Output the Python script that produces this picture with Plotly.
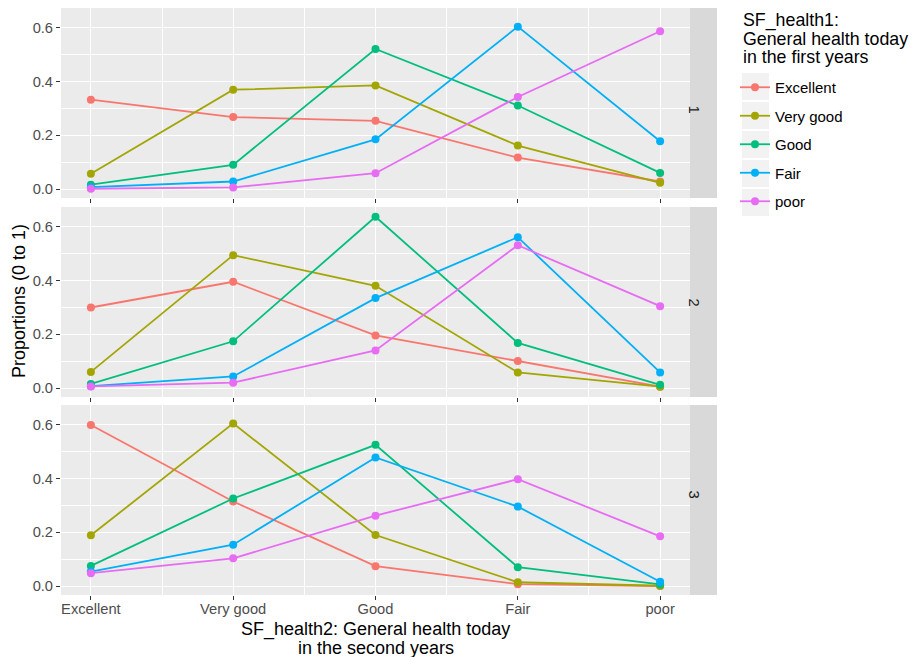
import plotly.graph_objects as go

categories = ["Excellent", "Very good", "Good", "Fair", "poor"]
series_names = ["Excellent", "Very good", "Good", "Fair", "poor"]
colors = ["#F8766D", "#A3A500", "#00BF7D", "#00B0F6", "#E76BF3"]
facets = ["1", "2", "3"]
legend_title_lines = ["SF_health1:", "General health today", "in the first years"]
x_title_lines = ["SF_health2: General health today", "in the second years"]
y_title = "Proportions (0 to 1)"

# facet 1
f1_excellent = [0.333, 0.268, 0.254, 0.117, 0.028]
f1_verygood = [0.057, 0.370, 0.386, 0.162, 0.023]
f1_good = [0.016, 0.090, 0.522, 0.311, 0.060]
f1_fair = [0.007, 0.028, 0.185, 0.605, 0.178]
f1_poor = [0.001, 0.006, 0.059, 0.343, 0.588]
# facet 2
f2_excellent = [0.300, 0.396, 0.196, 0.101, 0.005]
f2_verygood = [0.060, 0.495, 0.381, 0.058, 0.005]
f2_good = [0.015, 0.174, 0.638, 0.168, 0.012]
f2_fair = [0.007, 0.043, 0.335, 0.562, 0.058]
f2_poor = [0.006, 0.020, 0.140, 0.532, 0.305]
# facet 3
f3_excellent = [0.600, 0.315, 0.074, 0.007, 0.000]
f3_verygood = [0.189, 0.606, 0.190, 0.014, 0.001]
f3_good = [0.075, 0.326, 0.526, 0.070, 0.006]
f3_fair = [0.054, 0.154, 0.479, 0.296, 0.016]
f3_poor = [0.048, 0.103, 0.262, 0.398, 0.185]

facet_data = [
    [f1_excellent, f1_verygood, f1_good, f1_fair, f1_poor],
    [f2_excellent, f2_verygood, f2_good, f2_fair, f2_poor],
    [f3_excellent, f3_verygood, f3_good, f3_fair, f3_poor],
]

W, H = 914, 657
ML, MR, MT = 61, 10, 8
MB = H - 595
PW = W - ML - MR
PH = H - MT - MB

def px_x(p):  # p: pixel in window coordinates
    return (p - ML) / PW

def px_y(p):
    return (H - MB - p) / PH

panel_right = 690
strip_right = 717
panels_px = [(8, 198), (207, 397), (405, 595)]

FONT = "Liberation Sans, Arial, sans-serif"
TICK_SIZE = 14.7
fig = go.Figure()

xpos = list(range(1, len(categories) + 1))

for fi, data in enumerate(facet_data):
    ax = "" if fi == 0 else str(fi + 1)
    for si, vals in enumerate(data):
        fig.add_trace(go.Scatter(
            x=xpos, y=vals, mode="lines+markers",
            name=series_names[si], legendgroup=series_names[si],
            showlegend=(fi == 0),
            line=dict(color=colors[si], width=1.8),
            marker=dict(color=colors[si], size=8),
            xaxis="x" + ax, yaxis="y" + ax,
        ))

layout = dict(
    width=W, height=H,
    margin=dict(l=ML, r=MR, t=MT, b=MB),
    paper_bgcolor="white", plot_bgcolor="#EBEBEB",
    font=dict(family=FONT, color="#4D4D4D", size=TICK_SIZE),
    showlegend=True,
    legend=dict(
        x=px_x(735), y=px_y(71), xanchor="left", yanchor="top",
        font=dict(size=15, color="black", family=FONT),
        tracegroupgap=6, itemwidth=30, bgcolor="rgba(0,0,0,0)",
    ),
)

for fi, (top, bot) in enumerate(panels_px):
    ax = "" if fi == 0 else str(fi + 1)
    layout["xaxis" + ax] = dict(
        domain=[0, px_x(panel_right)], range=[0.79, 5.21],
        anchor="y" + ax,
        tickvals=xpos, ticktext=categories,
        showticklabels=(fi == 2),
        showgrid=True, gridcolor="white", gridwidth=1.2,
        minor=dict(tickvals=[1.5, 2.5, 3.5, 4.5], showgrid=True,
                   gridcolor="white", gridwidth=0.6),
        ticks="outside", ticklen=4, tickcolor="#333333", tickwidth=1,
        ticklabelstandoff=-4,
        zeroline=False, showline=False,
        tickfont=dict(size=TICK_SIZE, color="#4D4D4D"),
    )
    layout["yaxis" + ax] = dict(
        domain=[px_y(bot), px_y(top)], range=[-0.0335, 0.6745],
        anchor="x" + ax,
        tickvals=[0, 0.2, 0.4, 0.6], ticktext=["0.0", "0.2", "0.4", "0.6"],
        showgrid=True, gridcolor="white", gridwidth=1.2,
        minor=dict(tickvals=[0.1, 0.3, 0.5], showgrid=True,
                   gridcolor="white", gridwidth=0.6),
        ticks="outside", ticklen=4, tickcolor="#333333", tickwidth=1,
        zeroline=False, showline=False,
        tickfont=dict(size=TICK_SIZE, color="#4D4D4D"),
    )

fig.update_layout(**layout)

shapes = []
annotations = []
for fi, (top, bot) in enumerate(panels_px):
    shapes.append(dict(type="rect", xref="paper", yref="paper",
                       x0=px_x(panel_right), x1=px_x(strip_right),
                       y0=px_y(bot), y1=px_y(top),
                       fillcolor="#D9D9D9", line=dict(width=0), layer="below"))
    annotations.append(dict(text=facets[fi], xref="paper", yref="paper",
                            x=px_x((panel_right + strip_right) / 2),
                            y=px_y((top + bot) / 2),
                            showarrow=False, textangle=90,
                            font=dict(size=TICK_SIZE, color="#1A1A1A")))

# legend key backgrounds
for i in range(5):
    y0 = 73 + 29 * i
    shapes.append(dict(type="rect", xref="paper", yref="paper",
                       x0=px_x(742), x1=px_x(769), y0=px_y(y0 + 27), y1=px_y(y0),
                       fillcolor="#F2F2F2", line=dict(width=0), layer="below"))

# legend title lines
for i, t in enumerate(legend_title_lines):
    annotations.append(dict(text=t, xref="paper", yref="paper",
                            x=px_x(741), y=px_y(20 + 18.7 * i),
                            xanchor="left", yanchor="middle", showarrow=False,
                            font=dict(size=17.8, color="black")))

annotations.append(dict(text=y_title, xref="paper", yref="paper",
                        x=px_x(19), y=px_y(301), showarrow=False, textangle=-90,
                        xanchor="center", yanchor="middle",
                        font=dict(size=18, color="black")))
for i, t in enumerate(x_title_lines):
    annotations.append(dict(text=t, xref="paper", yref="paper",
                            x=px_x((61 + panel_right) / 2), y=px_y(629 + 18.7 * i),
                            xanchor="center", yanchor="middle", showarrow=False,
                            font=dict(size=18, color="black")))

fig.update_layout(shapes=shapes, annotations=annotations)
fig.write_html(
    "out.html",
    config={"displayModeBar": False},
    post_script="document.body.style.margin='0';document.body.style.overflow='hidden';",
)
